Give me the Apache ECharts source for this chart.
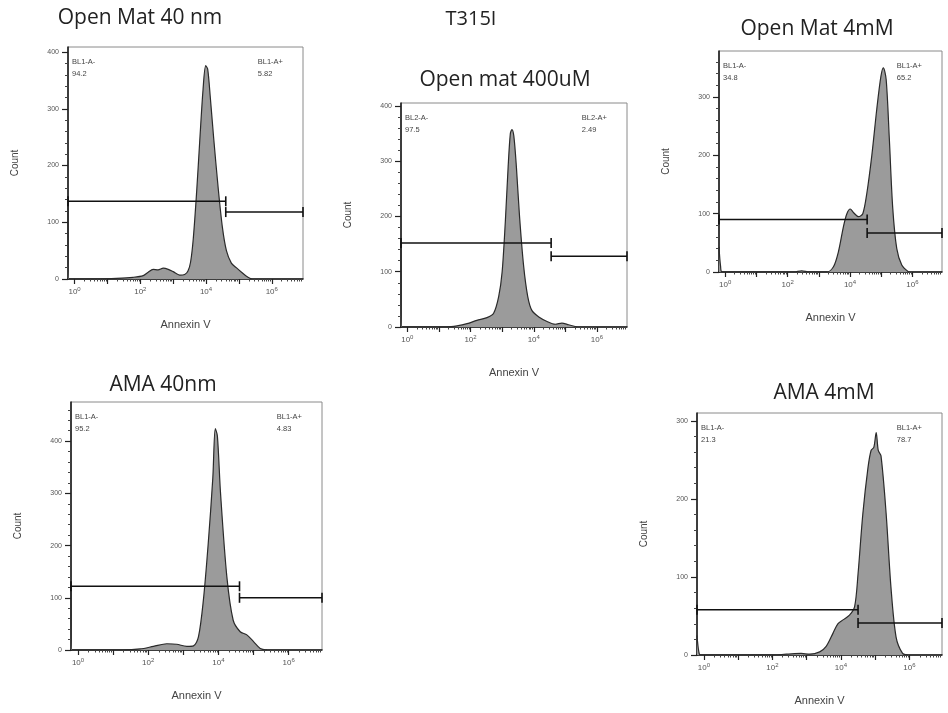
<!DOCTYPE html>
<html><head><meta charset="utf-8">
<script src="https://cdn.jsdelivr.net/npm/echarts@6/dist/echarts.min.js"></script>
<style>html,body{margin:0;padding:0;background:#fff}#c{width:948px;height:713px}</style>
</head><body><div id="c"></div>
<script>
// ---------------- data ----------------
const groupTitle = 'T315I';
const panelTitles = ['Open Mat 40 nm', 'Open mat 400uM', 'Open Mat 4mM', 'AMA 40nm', 'AMA 4mM'];
const xTickExponents = [0, 2, 4, 6];
const xMin = -0.2, xMax = 6.95;
const yTickValues = [
  [0, 100, 200, 300, 400],
  [0, 100, 200, 300, 400],
  [0, 100, 200, 300],
  [0, 100, 200, 300, 400],
  [0, 100, 200, 300]
];
const yMax = [409, 405, 379, 475, 310];
const leftGateNames = ['BL1-A-', 'BL2-A-', 'BL1-A-', 'BL1-A-', 'BL1-A-'];
const rightGateNames = ['BL1-A+', 'BL2-A+', 'BL1-A+', 'BL1-A+', 'BL1-A+'];
const leftGatePct = ['94.2', '97.5', '34.8', '95.2', '21.3'];
const rightGatePct = ['5.82', '2.49', '65.2', '4.83', '78.7'];
const gateSplit = [4.6, 4.55, 4.55, 4.6, 4.5];
const leftGateCount = [137, 152, 90, 122, 58];
const rightGateCount = [118, 128, 67, 100, 41];

// histograms: x = log10(Annexin V), y = count
const om40Log   = [-0.2, -0.17, 0.77, 1.28, 1.78, 2.09, 2.24, 2.39, 2.54, 2.70, 2.85, 3.00, 3.20, 3.35, 3.45, 3.53, 3.61, 3.71, 3.81, 3.91, 3.99, 4.05, 4.13, 4.23, 4.37, 4.50, 4.62, 4.77, 4.92, 5.08, 5.23, 5.38];
const om40Count = [137, 0, 0, 1, 3, 6, 12, 17, 16, 19, 17, 13, 7, 8, 14, 30, 70, 150, 245, 335, 376, 370, 320, 250, 160, 90, 50, 28, 20, 12, 5, 0];

const om400Log   = [-0.2, -0.17, 1.26, 1.57, 1.89, 2.20, 2.52, 2.73, 2.89, 3.00, 3.10, 3.19, 3.26, 3.31, 3.37, 3.45, 3.55, 3.68, 3.81, 3.94, 4.16, 4.42, 4.68, 4.89, 5.10, 5.37];
const om400Count = [152, 0, 0, 2, 6, 12, 17, 25, 55, 100, 190, 290, 350, 357, 345, 290, 200, 110, 55, 30, 18, 10, 5, 7, 4, 0];

const om4mLog   = [-0.2, -0.15, -0.1, 2.2, 2.45, 2.7, 3.26, 3.47, 3.63, 3.79, 3.90, 4.01, 4.11, 4.27, 4.41, 4.54, 4.70, 4.86, 4.99, 5.07, 5.16, 5.26, 5.37, 5.50, 5.66, 5.88];
const om4mCount = [43, 10, 0, 0, 2, 0, 0, 9, 35, 78, 100, 108, 102, 95, 100, 135, 200, 280, 335, 350, 330, 230, 110, 40, 12, 0];

const ama40Log   = [-0.2, -0.17, 1.29, 1.77, 2.15, 2.53, 2.81, 3.10, 3.29, 3.43, 3.57, 3.71, 3.84, 3.91, 3.97, 4.06, 4.24, 4.42, 4.62, 4.81, 5.00, 5.19, 5.38];
const ama40Count = [122, 0, 0, 2, 7, 12, 11, 7, 8, 25, 95, 205, 330, 424, 410, 300, 140, 57, 35, 29, 16, 3, 0];

const ama4mLog   = [-0.2, -0.15, -0.1, 1.92, 2.41, 2.84, 3.09, 3.38, 3.57, 3.77, 3.91, 4.06, 4.25, 4.40, 4.50, 4.64, 4.79, 4.88, 4.96, 5.03, 5.09, 5.17, 5.32, 5.46, 5.61, 5.80, 5.95];
const ama4mCount = [25, 5, 0, 0, 1, 2, 1, 4, 11, 28, 40, 45, 51, 62, 104, 181, 240, 262, 266, 285, 262, 255, 181, 87, 23, 2, 0];

const histLogs = [om40Log, om400Log, om4mLog, ama40Log, ama4mLog];
const histCounts = [om40Count, om400Count, om4mCount, ama40Count, ama4mCount];

// ---------------- layout / style ----------------
const grids = [
  {left: 68,  top: 47,  width: 235, height: 232},
  {left: 401, top: 103, width: 226, height: 224},
  {left: 719, top: 51,  width: 223, height: 221},
  {left: 71,  top: 402, width: 251, height: 248},
  {left: 697, top: 413, width: 245, height: 242}
];
const titlePos = [[140, 18], [505, 80], [817, 29], [163, 385], [824, 393]];
const groupTitlePos = [471, 19];

const minorX = [];
for (let n = 0; n <= 6; n++) for (let k = 2; k <= 9; k++) {
  const v = n + Math.log10(k);
  if (v < xMax) minorX.push(v);
}
const majorX = [0, 1, 2, 3, 4, 5, 6];

const chart = echarts.init(document.getElementById('c'), null, {renderer: 'canvas'});
const option = {
  backgroundColor: '#fff',
  animation: false,
  grid: [], xAxis: [], yAxis: [], series: [], graphic: []
};
const FONT = 'Liberation Sans, Arial, sans-serif';

grids.forEach((g, i) => {
  option.grid.push({left: g.left, top: g.top, width: g.width, height: g.height,
    show: true, borderColor: '#8a8a8a', borderWidth: 1, backgroundColor: 'transparent'});
  const minorY = [];
  for (let v = 0; v <= yMax[i]; v += 20) if (v % 100 !== 0) minorY.push(v);
  // main x axis
  option.xAxis.push({
    type: 'value', gridIndex: i, min: xMin, max: xMax, position: 'bottom', offset: 0,
    name: 'Annexin V', nameLocation: 'middle', nameGap: 40,
    nameTextStyle: {fontFamily: FONT, fontSize: 11, color: '#444'},
    axisLine: {show: true, onZero: false, lineStyle: {color: '#111', width: 1.5}},
    axisTick: {show: true, customValues: majorX, length: 5, lineStyle: {color: '#222', width: 1.2}},
    axisLabel: {show: true, customValues: xTickExponents, margin: 7,
      fontFamily: FONT, fontSize: 8, color: '#555',
      formatter: v => '10{s|' + v + '}',
      rich: {s: {fontFamily: FONT, fontSize: 6, color: '#555', padding: [0, 0, 6, 0]}}},
    splitLine: {show: false}
  });
  // minor x ticks
  option.xAxis.push({
    type: 'value', gridIndex: i, min: xMin, max: xMax, position: 'bottom', offset: 0,
    axisLine: {show: false, onZero: false}, axisLabel: {show: false}, splitLine: {show: false},
    axisTick: {show: true, customValues: minorX, length: 2.5, lineStyle: {color: '#444', width: 1}}
  });
  option.yAxis.push({
    type: 'value', gridIndex: i, min: 0, max: yMax[i], position: 'left', offset: 0,
    name: 'Count', nameLocation: 'middle', nameGap: 48, nameRotate: 90,
    nameTextStyle: {fontFamily: FONT, fontSize: 10, color: '#444'},
    axisLine: {show: true, onZero: false, lineStyle: {color: '#111', width: 1.5}},
    axisTick: {show: true, customValues: yTickValues[i], length: 6, lineStyle: {color: '#222', width: 1.2}},
    axisLabel: {show: true, customValues: yTickValues[i], margin: 9,
      fontFamily: FONT, fontSize: 7, color: '#555'},
    splitLine: {show: false}
  });
  option.yAxis.push({
    type: 'value', gridIndex: i, min: 0, max: yMax[i], position: 'left', offset: 0,
    axisLine: {show: false, onZero: false}, axisLabel: {show: false}, splitLine: {show: false},
    axisTick: {show: true, inside: false, customValues: minorY, length: 3, lineStyle: {color: '#444', width: 1}}
  });
  const xi = 2 * i, yi = 2 * i;
  option.series.push({
    type: 'line', xAxisIndex: xi, yAxisIndex: yi,
    data: histLogs[i].map((x, k) => [x, histCounts[i][k]]),
    smooth: 0.3, symbol: 'none',
    lineStyle: {color: '#2a2a2a', width: 1.2},
    areaStyle: {color: '#9b9b9b', opacity: 1},
    z: 2
  });
  const gateStyle = {
    type: 'line', xAxisIndex: xi, yAxisIndex: yi, clip: false,
    symbol: 'rect', symbolSize: [1.6, 10],
    itemStyle: {color: '#111'}, lineStyle: {color: '#111', width: 1.6}, z: 5
  };
  option.series.push(Object.assign({}, gateStyle, {data: [[xMin, leftGateCount[i]], [gateSplit[i], leftGateCount[i]]]}));
  option.series.push(Object.assign({}, gateStyle, {data: [[gateSplit[i], rightGateCount[i]], [xMax, rightGateCount[i]]]}));

  // gate labels
  const ts = {fontFamily: FONT, fontSize: 7.5, fill: '#444', lineHeight: 12};
  option.graphic.push({type: 'text', left: g.left + 4, top: g.top + 9,
    style: Object.assign({}, ts, {text: leftGateNames[i] + '\n' + leftGatePct[i], align: 'left'})});
  option.graphic.push({type: 'text', right: 948 - (g.left + g.width - 20), top: g.top + 9,
    style: Object.assign({}, ts, {text: rightGateNames[i] + '\n' + rightGatePct[i], align: 'right'})});
  // panel title
  option.graphic.push({type: 'text', x: titlePos[i][0], y: titlePos[i][1],
    style: {text: panelTitles[i], fontFamily: 'Open Sans, sans-serif', fontSize: 21, fill: '#222',
      align: 'center', verticalAlign: 'middle'}});
});
option.graphic.push({type: 'text', x: groupTitlePos[0], y: groupTitlePos[1],
  style: {text: groupTitle, fontFamily: 'Open Sans, sans-serif', fontSize: 20, fill: '#222',
    align: 'center', verticalAlign: 'middle'}});

chart.setOption(option);
</script>
</body></html>
